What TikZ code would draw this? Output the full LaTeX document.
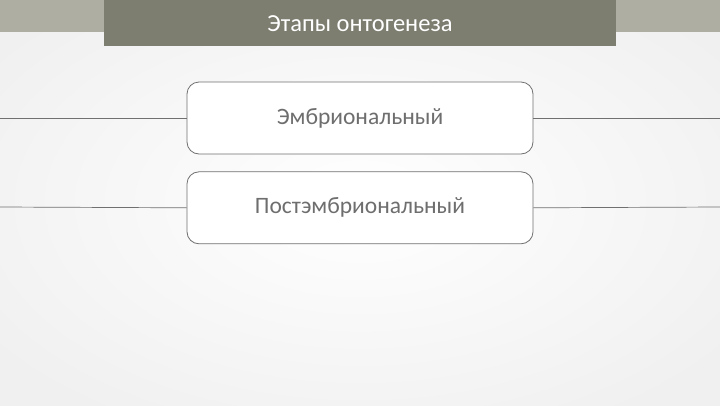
\documentclass[tikz,border=0pt]{standalone}
\usepackage{fontspec}
\setmainfont{Carlito}
\usetikzlibrary{positioning}
\definecolor{barlight}{HTML}{AEAFA2}
\definecolor{bardark}{HTML}{7D7E70}
\definecolor{txtgray}{HTML}{6E6E6E}
\definecolor{linegray}{HTML}{707070}

\begin{document}
\begin{tikzpicture}[x=1pt,y=-1pt,
  stage/.style={draw=linegray, line width=0.8pt, rounded corners=12pt, fill=white, minimum width=346pt,
    minimum height=72pt, text=txtgray, font=\fontsize{23.5}{26}\selectfont},
  link/.style={draw=linegray, line width=0.7pt}]
 % background
 \useasboundingbox (0,0) rectangle (720,405);
 \shade[inner color=white, outer color=gray!12] (-100,-60) rectangle (820,465);
 \fill[barlight] (0,0) rectangle (720,32);
 \node[fill=bardark, minimum width=512pt, minimum height=46pt, anchor=north, inner sep=0pt,
   text=white, font=\fontsize{24.5}{28}\selectfont] (title) at (360,0) {Этапы онтогенеза};

 % stages
 \node[stage] (embr) at (360,118) {Эмбриональный};
 \node[stage, below=17pt of embr] (postembr) {Постэмбриональный};

 \coordinate (l1) at (0,118);
 \coordinate (r1) at (720,118);
 \coordinate (l2) at (0,207);
 \coordinate (r2) at (720,207);
 \draw[link] (l1) -- (embr.west);
 \draw[link] (embr.east) -- (r1);
 \draw[link] (l2) -- (postembr.west);
 \draw[link] (postembr.east) -- (r2);
\end{tikzpicture}
\end{document}
